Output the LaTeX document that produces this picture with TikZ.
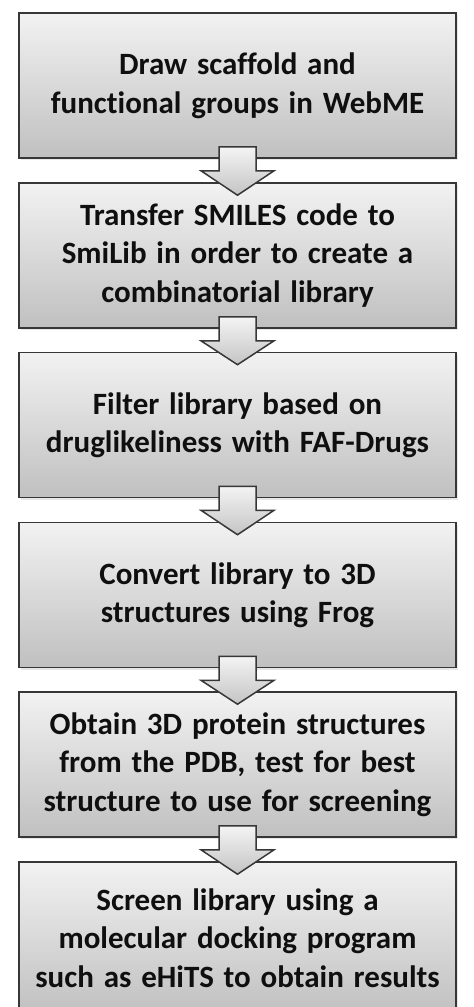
\documentclass[tikz,border=0pt]{standalone}
\usepackage{fontspec}
\newfontfamily\carlitofont[WordSpace=1.4, Ligatures=NoCommon]{Carlito}
\usetikzlibrary{calc,shadows}
\definecolor{boxtop}{RGB}{242,242,242}
\definecolor{boxbot}{RGB}{192,192,192}
\definecolor{arrtop}{RGB}{244,244,244}
\definecolor{arrbot}{RGB}{196,196,196}
\definecolor{edgecol}{RGB}{55,55,55}
\definecolor{txtcol}{RGB}{15,15,15}
\tikzset{
  stepbox/.style={draw=edgecol, line width=1.6bp, top color=boxtop, bottom color=boxbot,
    minimum width=437bp, minimum height=145bp, inner sep=0pt, align=center,
    text=txtcol, font=\carlitofont\bfseries\fontsize{31bp}{38.5bp}\selectfont,
    drop shadow={opacity=0.18, shadow xshift=2bp, shadow yshift=-2bp}},
  arrowfill/.style={draw=edgecol, line width=1.5bp, top color=arrtop, bottom color=arrbot, line join=miter}
}
\newcommand\flowarrow[2]{%
  \path[arrowfill] ($(#1.south)+(-18.5,-12)$) -- ($(#1.south)+(18.5,-12)$)
    -- ($(#1.south)+(18.5,12)$) -- ($(#1.south)+(36.5,12)$)
    -- ($(#2.north)+(0,13)$)
    -- ($(#1.south)+(-36.5,12)$) -- ($(#1.south)+(-18.5,12)$) -- cycle;}
\begin{document}
\begin{tikzpicture}[x=1bp,y=-1bp]
\useasboundingbox[fill=white] (0,0) rectangle (474,1007);
\node[stepbox] (b1) at (237.5,85.5) {Draw scaffold and\\functional groups in WebME};
\node[stepbox] (b2) at (237.5,255.5) {Transfer SMILES code to\\SmiLib in order to create a\\combinatorial library};
\node[stepbox] (b3) at (237.5,425) {Filter library based on\\druglikeliness with FAF-Drugs};
\node[stepbox] (b4) at (237.5,595) {Convert library to 3D\\structures using Frog};
\node[stepbox] (b5) at (237.5,764.5) {Obtain 3D protein structures\\from the PDB, test for best\\structure to use for screening};
\node[stepbox, minimum height=152bp] (b6) at (237.5,938) {Screen library using a\\molecular docking program\\such as eHiTS to obtain results};
\flowarrow{b1}{b2}
\flowarrow{b2}{b3}
\flowarrow{b3}{b4}
\flowarrow{b4}{b5}
\flowarrow{b5}{b6}
\end{tikzpicture}
\end{document}
